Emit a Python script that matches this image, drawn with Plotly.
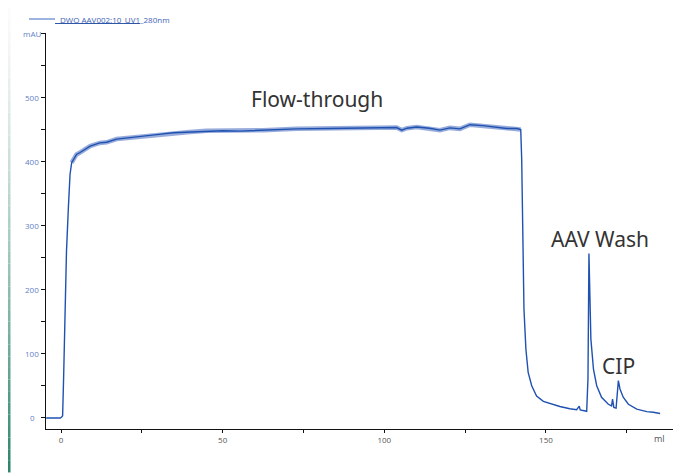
import plotly.graph_objects as go

# ---- data ----
volume_ml = [-4.6, -3.0, -1.5, -0.8, -0.2, 0.2, 0.5, 0.8, 1.2, 1.7, 2.3, 2.8, 3.3, 4.0, 4.8,
             5.9, 7.9, 9.0, 12.0, 14.1, 17.2, 19.2, 24.4, 29.6, 34.7, 39.9, 45.0, 50.2, 55.4,
             62.5, 72.9, 83.2, 93.4, 100.0, 103.8, 105.4, 107.0, 110.0, 114.0, 117.2, 120.3,
             123.4, 126.5, 130.5, 134.8, 137.9, 141.0, 142.2, 142.5, 142.8, 143.2, 143.8,
             144.5, 145.6, 147.1, 149.2, 152.3, 154.3, 157.4, 159.5, 160.3, 160.6, 162.6,
             163.0, 163.3, 163.6, 163.9, 164.7, 165.7, 167.2, 169.3, 170.3, 170.6, 171.0,
             171.7, 172.4, 172.9, 173.9, 175.5, 178.1, 181.2, 183.2, 185.3]
uv_mau = [-1.5, -1.5, -1.5, -2.5, -1.5, 0, 2, 60, 164, 260, 330, 380, 398, 405, 411,
          414, 421, 424, 429, 430, 435, 436, 439, 442, 445, 446, 448, 448, 447.5,
          449, 451, 451.5, 452.5, 452, 453, 449, 452, 454, 452, 449, 452.5,
          451, 457.5, 456, 454, 451.5, 451.5, 450, 403, 273, 169, 106,
          70, 49, 33, 24.5, 19, 16.5, 13, 11.5, 17, 11, 9,
          60, 256, 174, 122, 75, 49, 31, 20, 17.5, 28, 15,
          14, 57, 44, 31, 20, 12.5, 8.5, 7.5, 5.5]

series_name = "DWQ AAV002:10_UV1_280nm"
x_tick_vals = [0, 25, 50, 75, 100, 125, 150, 175]
x_tick_text = ["0", "", "50", "", "100", "", "150", ""]
y_tick_vals = [0, 50, 100, 150, 200, 250, 300, 350, 400, 450, 500, 550, 600]
y_label_vals = [0, 100, 200, 300, 400, 500, 600]
y_label_text = ["0", "100", "200", "300", "400", "500", "mAU"]
peak_labels = [("Flow-through", 79.3, 498), ("AAV Wash", 166.7, 278), ("CIP", 172.3, 80)]

# the page body adds an 8px offset, so the figure is drawn 8px smaller
OFF = 8
W, H = 681 - OFF, 473 - OFF
L, R, T, B = 46 - OFF, 8, 33 - OFF, 43.5
LINE = "#1f52b0"

fig = go.Figure()

# noisy plateau look: a wider, translucent band under the flow-through part
plateau = [i for i, v in enumerate(volume_ml) if 3.0 <= v <= 142.2]
fig.add_trace(go.Scatter(
    x=[volume_ml[i] for i in plateau], y=[uv_mau[i] for i in plateau],
    mode="lines", line=dict(color="rgba(50,90,185,0.5)", width=4.5),
    hoverinfo="skip", showlegend=False))
fig.add_trace(go.Scatter(
    x=volume_ml, y=uv_mau, mode="lines", name=series_name,
    line=dict(color=LINE, width=1.4), showlegend=False))

fig.update_xaxes(range=[-4.64, 189.3], showgrid=False, zeroline=False,
                 showline=True, linecolor="#111", linewidth=1,
                 tickmode="array", tickvals=x_tick_vals, ticktext=x_tick_text,
                 ticks="outside", ticklen=3, tickcolor="#111",
                 tickfont=dict(family="Open Sans", size=8, color="#555"))
fig.update_yaxes(range=[-18.7, 601], showgrid=False, zeroline=False,
                 showline=True, linecolor="#111", linewidth=1,
                 tickmode="array", tickvals=y_tick_vals,
                 ticktext=[""] * len(y_tick_vals),
                 ticks="outside", ticklen=4, tickcolor="#111")

px = lambda p: (p - OFF - L) / (W - L - R)
py = lambda p: 1 - (p - OFF - T) / (H - T - B)

annotations = []
for v, t in zip(y_label_vals, y_label_text):
    annotations.append(dict(xref="paper", yref="y", x=0, y=v, text=t, showarrow=False,
                            xanchor="center", yanchor="middle",
                            xshift=-14,
                            font=dict(family="Open Sans", size=8, color="#5f80c6")))
annotations.append(dict(xref="paper", yref="paper", x=1, y=0, text="ml", showarrow=False,
                        xanchor="center", yanchor="top", xshift=-14, yshift=-1,
                        font=dict(family="Open Sans", size=9, color="#555")))
for t, xv, yv in peak_labels:
    annotations.append(dict(xref="x", yref="y", x=xv, y=yv, text=t, showarrow=False,
                            xanchor="center", yanchor="middle",
                            font=dict(family="Noto Sans", size=21, color="#333333")))
# legend text
annotations.append(dict(xref="paper", yref="paper", x=px(58), y=py(19),
                        text=series_name, showarrow=False, xanchor="left", yanchor="middle",
                        font=dict(family="Open Sans", size=8, color="#3d63b5")))

shapes = []
# legend sample line and underline
shapes.append(dict(type="line", xref="paper", yref="paper", x0=px(29), x1=px(55),
                   y0=py(19), y1=py(19), line=dict(color="#7d9bd6", width=1.5)))
shapes.append(dict(type="line", xref="paper", yref="paper", x0=px(55), x1=px(140),
                   y0=py(23.5), y1=py(23.5), line=dict(color="#2f55a8", width=1)))
# decorative vertical gradient strip at the left edge
n = 40
c0 = (250, 251, 251)
c1 = (46, 134, 108)
for k in range(n):
    f = k / (n - 1)
    f2 = f ** 1.3
    col = tuple(int(c0[j] + (c1[j] - c0[j]) * f2) for j in range(3))
    shapes.append(dict(type="rect", xref="paper", yref="paper",
                       x0=px(8.0), x1=px(10.5),
                       y0=py(OFF + (H) * k / n), y1=py(OFF + (H) * (k + 1) / n),
                       fillcolor="rgb(%d,%d,%d)" % col, line=dict(width=0), layer="below"))

fig.update_layout(width=W, height=H, margin=dict(l=L, r=R, t=T, b=B),
                  paper_bgcolor="white", plot_bgcolor="white",
                  annotations=annotations, shapes=shapes, showlegend=False)

fig.write_html("out.html")
